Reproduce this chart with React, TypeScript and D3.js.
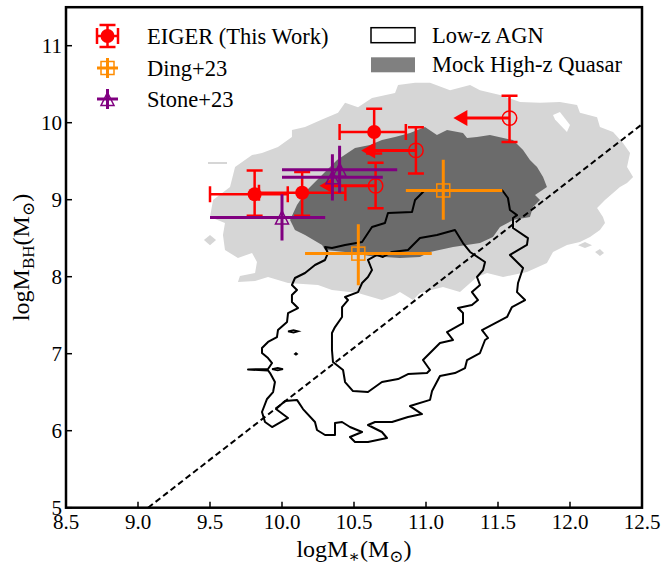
import React from 'react'
import * as d3 from 'd3'

// ---- data ----
const X_TICKS = [8.5, 9.0, 9.5, 10.0, 10.5, 11.0, 11.5, 12.0, 12.5]
const Y_TICKS = [5, 6, 7, 8, 9, 10, 11]

// EIGER detections: stellar mass, BH mass and their error ranges
const EIGER_DET = [
  { m: 9.81, bh: 9.07, mLo: 9.50, mHi: 10.04, bhLo: 8.79, bhHi: 9.38 },
  { m: 10.14, bh: 9.09, mLo: 9.84, mHi: 10.44, bhLo: 8.79, bhHi: 9.36 },
  { m: 10.64, bh: 9.88, mLo: 10.40, mHi: 10.86, bhLo: 9.60, bhHi: 10.18 },
]
// EIGER upper limits on stellar mass (arrow tip = where the arrow points)
const EIGER_LIM = [
  { m: 10.93, bh: 9.64, tip: 10.55, bhLo: 9.34, bhHi: 9.94 },
  { m: 10.65, bh: 9.18, tip: 10.26, bhLo: 8.89, bhHi: 9.48 },
  { m: 11.58, bh: 10.06, tip: 11.19, bhLo: 9.75, bhHi: 10.35 },
]
const DING = [
  { m: 11.12, bh: 9.12, mLo: 10.86, mHi: 11.53, bhLo: 8.74, bhHi: 9.52 },
  { m: 10.53, bh: 8.30, mLo: 10.16, mHi: 11.04, bhLo: 7.89, bhHi: 8.68 },
]
const STONE = [
  { m: 10.0, bh: 8.77, mLo: 9.50, mHi: 10.30, bhLo: 8.47, bhHi: 9.07 },
  { m: 10.40, bh: 9.39, mLo: 10.0, mHi: 10.80, bhLo: 9.09, bhHi: 9.70 },
  { m: 10.35, bh: 9.29, mLo: 10.0, mHi: 10.70, bhLo: 8.99, bhHi: 9.59 },
]

// local relation (dashed)
const RELATION = [[9.07, 5.0], [12.5, 9.98]]

// mock high-z quasar density, outer (light) level
const MOCK_OUTER = [
  [9.674, 9.425], [9.792, 9.58], [9.861, 9.606], [9.972, 9.684], [10.069, 9.814], [10.069, 9.906],
  [10.16, 9.945], [10.278, 10.04], [10.389, 10.13], [10.438, 10.26], [10.528, 10.2], [10.625, 10.32],
  [10.785, 10.385], [10.806, 10.49], [10.924, 10.52], [11.028, 10.52], [11.167, 10.42], [11.306, 10.49],
  [11.375, 10.42], [11.514, 10.36], [11.653, 10.27], [11.792, 10.26], [11.93, 10.27], [12.049, 10.23],
  [12.069, 10.13], [12.188, 10.07], [12.208, 9.945], [12.299, 9.88], [12.368, 9.736], [12.417, 9.606],
  [12.396, 9.425], [12.438, 9.295], [12.396, 9.217], [12.347, 9.165], [12.299, 9.087], [12.243, 8.996],
  [12.188, 8.892], [12.229, 8.775], [12.243, 8.697], [12.208, 8.606], [12.139, 8.515], [12.069, 8.45],
  [11.979, 8.412], [11.882, 8.321], [11.84, 8.178], [11.701, 8.061], [11.535, 7.996], [11.424, 8.048],
  [11.354, 7.996], [11.236, 7.8], [11.118, 7.866], [10.958, 7.788], [10.91, 7.697], [10.819, 7.8],
  [10.785, 7.762], [10.694, 7.697], [10.528, 7.788], [10.347, 7.827], [10.25, 7.892], [10.042, 7.918],
  [9.903, 7.996], [9.813, 7.944], [9.694, 7.931], [9.708, 8.009], [9.813, 8.048], [9.826, 8.191],
  [9.792, 8.308], [9.694, 8.243], [9.604, 8.347], [9.59, 8.541], [9.604, 8.697], [9.5, 8.775],
  [9.521, 8.996], [9.639, 9.165], [9.66, 9.32],
]
const MOCK_OUTER_HOLE = [[11.882, 10.1], [11.93, 10.14], [12.0, 9.97], [11.979, 9.88], [11.896, 10.04]]
const MOCK_OUTER_ISLANDS = [
  [[9.458, 8.477], [9.5, 8.54], [9.542, 8.477], [9.5, 8.41]],
  [[9.486, 9.49], [9.618, 9.49], [9.618, 9.465], [9.486, 9.465]],
  [[12.056, 8.41], [12.104, 8.45], [12.153, 8.41], [12.104, 8.373]],
  [[12.174, 8.321], [12.208, 8.36], [12.236, 8.308], [12.208, 8.269]],
]
// mock high-z quasar density, inner (dark) level
const MOCK_INNER = [
  [10.056, 8.736], [10.104, 8.931], [10.174, 9.126], [10.278, 9.32], [10.382, 9.516], [10.507, 9.671],
  [10.611, 9.71], [10.694, 9.775], [10.785, 9.814], [10.889, 9.866], [10.993, 9.945], [11.076, 9.84],
  [11.146, 9.906], [11.257, 9.866], [11.285, 9.8], [11.354, 9.814], [11.444, 9.84], [11.604, 9.775],
  [11.674, 9.645], [11.722, 9.516], [11.771, 9.425], [11.813, 9.295], [11.84, 9.165], [11.757, 9.061],
  [11.792, 8.996], [11.743, 8.905], [11.722, 8.775], [11.604, 8.736], [11.514, 8.645], [11.465, 8.515],
  [11.375, 8.437], [11.188, 8.386], [11.028, 8.321], [10.958, 8.256], [10.819, 8.243], [10.611, 8.269],
  [10.438, 8.321], [10.299, 8.347], [10.278, 8.412], [10.16, 8.541], [10.09, 8.606],
]

// low-z AGN contours (two levels plus small fragments)
const AGN_OUTER = [
  [10.993, 9.126], [10.924, 8.996], [10.903, 8.84], [10.736, 8.827], [10.715, 8.697], [10.625, 8.645],
  [10.556, 8.45], [10.438, 8.412], [10.347, 8.373], [10.299, 8.386], [10.319, 8.308], [10.299, 8.217],
  [10.229, 8.152], [10.16, 8.048], [10.09, 7.983], [10.069, 7.892], [10.104, 7.827], [10.069, 7.762],
  [10.069, 7.671], [10.111, 7.593], [10.042, 7.528], [10.035, 7.412], [9.972, 7.307], [9.965, 7.216],
  [9.903, 7.152], [9.861, 7.074], [9.861, 7.009], [9.903, 6.944], [9.931, 6.879], [9.903, 6.801],
  [9.764, 6.795], [9.903, 6.782], [9.917, 6.749], [9.951, 6.632], [9.938, 6.502], [9.896, 6.412],
  [9.861, 6.243], [9.882, 6.113], [9.931, 6.048], [10.042, 6.165], [9.958, 6.281], [10.021, 6.386],
  [10.104, 6.4], [10.146, 6.281], [10.229, 6.113], [10.243, 6.009], [10.299, 5.944], [10.368, 5.944],
  [10.368, 6.1], [10.417, 6.113], [10.472, 6.048], [10.556, 5.983], [10.472, 5.918], [10.507, 5.853],
  [10.597, 5.853], [10.729, 5.905], [10.694, 5.983], [10.597, 6.074], [10.646, 6.113], [10.764, 6.113],
  [10.875, 6.178], [10.972, 6.216], [10.889, 6.32], [11.028, 6.4], [11.042, 6.515], [11.097, 6.71],
  [11.201, 6.749], [11.271, 6.814], [11.285, 6.918], [11.375, 7.009], [11.41, 7.178], [11.431, 7.204],
  [11.389, 7.307], [11.563, 7.477], [11.597, 7.606], [11.688, 7.697], [11.632, 7.8], [11.639, 7.918],
  [11.674, 8.113], [11.583, 8.282], [11.701, 8.412], [11.708, 8.502], [11.604, 8.632], [11.604, 8.762],
  [11.632, 8.8], [11.583, 8.866], [11.569, 9.022], [11.528, 9.126],
]
const AGN_INNER = [
  [10.625, 8.087], [10.597, 7.996], [10.556, 7.918], [10.528, 7.8], [10.438, 7.736], [10.458, 7.697],
  [10.417, 7.606], [10.417, 7.477], [10.368, 7.346], [10.347, 7.268], [10.347, 7.048], [10.354, 6.892],
  [10.424, 6.788], [10.438, 6.632], [10.493, 6.515], [10.597, 6.502], [10.694, 6.632], [10.806, 6.671],
  [10.875, 6.736], [11.007, 6.749], [11.028, 6.788], [10.979, 6.918], [11.097, 7.139], [11.188, 7.178],
  [11.146, 7.281], [11.257, 7.398], [11.257, 7.528], [11.222, 7.593], [11.319, 7.632], [11.361, 7.697],
  [11.319, 7.8], [11.375, 7.892], [11.354, 7.996], [11.396, 8.087], [11.41, 8.191], [11.306, 8.321],
  [11.257, 8.437], [11.201, 8.606], [11.076, 8.541], [10.958, 8.502], [10.875, 8.347], [10.764, 8.321],
  [10.701, 8.256], [10.66, 8.282], [10.597, 8.217],
]
const AGN_FRAGMENTS = [
  [[10.042, 7.29], [10.08, 7.305], [10.111, 7.29], [10.08, 7.275]],
  [[10.09, 6.997], [10.097, 7.007], [10.104, 6.997], [10.097, 6.987]],
  [[9.931, 6.8], [9.97, 6.815], [10.007, 6.8], [9.97, 6.785]],
]

// ---- layout ----
const W = 663
const H = 566
const PL = 66, PR = 642, PT = 7.2, PB = 507.7

const RED = '#ff0000'
const ORANGE = '#ff8c00'
const PURPLE = '#800080'
const SERIF = '"Liberation Serif", "DejaVu Serif", "Times New Roman", serif'

const x = d3.scaleLinear().domain([8.5, 12.5]).range([PL, PR])
const y = d3.scaleLinear().domain([5, 11.5]).range([PB, PT])

const area = d3.line<number[]>().x(d => x(d[0])).y(d => y(d[1])).curve(d3.curveLinearClosed)
const rel = d3.line<number[]>().x(d => x(d[0])).y(d => y(d[1]))

const tri = (cx: number, cy: number, r: number) =>
  `M${cx},${cy - r}L${cx + r},${cy + r}L${cx - r},${cy + r}Z`

function Cross({ d, color }: { d: any; color: string }) {
  return (
    <g stroke={color} strokeWidth={3}>
      <line x1={x(d.mLo)} x2={x(d.mHi)} y1={y(d.bh)} y2={y(d.bh)} />
      <line x1={x(d.m)} x2={x(d.m)} y1={y(d.bhLo)} y2={y(d.bhHi)} />
    </g>
  )
}

const txt = { fontFamily: SERIF, fill: '#000' }

export default function App() {
  const cap = 8
  return (
    <svg width={W} height={H} style={{ position: 'absolute', left: 0, top: 0, background: '#fff' }}>
      <defs>
        <clipPath id="plot"><rect x={PL} y={PT} width={PR - PL} height={PB - PT} /></clipPath>
      </defs>
      <g clipPath="url(#plot)">
        <path d={area(MOCK_OUTER)!} fill="#d6d6d6" />
        <path d={area(MOCK_OUTER_HOLE)!} fill="#fff" />
        {MOCK_OUTER_ISLANDS.map((p, i) => <path key={i} d={area(p)!} fill="#d6d6d6" />)}
        <path d={area(MOCK_INNER)!} fill="#6b6b6b" />

        <path d={area(AGN_OUTER)!} fill="none" stroke="#000" strokeWidth={2} strokeLinejoin="round" />
        <path d={area(AGN_INNER)!} fill="none" stroke="#000" strokeWidth={2} strokeLinejoin="round" />
        {AGN_FRAGMENTS.map((p, i) => (
          <path key={i} d={area(p)!} fill="none" stroke="#000" strokeWidth={1.8} />
        ))}

        <path d={rel(RELATION)!} fill="none" stroke="#000" strokeWidth={2} strokeDasharray="6,3.5" />

        {/* EIGER detections */}
        {EIGER_DET.map((d, i) => (
          <g key={'d' + i} stroke={RED} strokeWidth={2.5}>
            <line x1={x(d.mLo)} x2={x(d.mHi)} y1={y(d.bh)} y2={y(d.bh)} />
            <line x1={x(d.m)} x2={x(d.m)} y1={y(d.bhLo)} y2={y(d.bhHi)} />
            <line x1={x(d.mLo)} x2={x(d.mLo)} y1={y(d.bh) - cap} y2={y(d.bh) + cap} />
            <line x1={x(d.mHi)} x2={x(d.mHi)} y1={y(d.bh) - cap} y2={y(d.bh) + cap} />
            <line x1={x(d.m) - cap} x2={x(d.m) + cap} y1={y(d.bhLo)} y2={y(d.bhLo)} />
            <line x1={x(d.m) - cap} x2={x(d.m) + cap} y1={y(d.bhHi)} y2={y(d.bhHi)} />
            <circle cx={x(d.m)} cy={y(d.bh)} r={7} fill={RED} stroke="none" />
          </g>
        ))}
        {/* EIGER upper limits */}
        {EIGER_LIM.map((d, i) => {
          const cy = y(d.bh)
          const tx = x(d.tip)
          return (
            <g key={'l' + i} stroke={RED} strokeWidth={2.5}>
              <line x1={x(d.m)} x2={x(d.m)} y1={y(d.bhLo)} y2={y(d.bhHi)} />
              <line x1={x(d.m) - cap} x2={x(d.m) + cap} y1={y(d.bhLo)} y2={y(d.bhLo)} />
              <line x1={x(d.m) - cap} x2={x(d.m) + cap} y1={y(d.bhHi)} y2={y(d.bhHi)} />
              <line x1={x(d.m)} x2={tx + 10} y1={cy} y2={cy} strokeWidth={3} />
              <path d={`M${tx},${cy}L${tx + 14},${cy - 8}L${tx + 14},${cy + 8}Z`} fill={RED} stroke="none" />
              <circle cx={x(d.m)} cy={cy} r={7.2} fill="none" strokeWidth={1.5} />
            </g>
          )
        })}
        {/* Ding+23 */}
        {DING.map((d, i) => (
          <g key={'g' + i}>
            <Cross d={d} color={ORANGE} />
            <rect x={x(d.m) - 6.5} y={y(d.bh) - 6.5} width={13} height={13} fill="none" stroke={ORANGE} strokeWidth={1.5} />
          </g>
        ))}
        {/* Stone+23 */}
        {STONE.map((d, i) => (
          <g key={'s' + i}>
            <Cross d={d} color={PURPLE} />
            <path d={tri(x(d.m), y(d.bh), 6.5)} fill="none" stroke={PURPLE} strokeWidth={1.5} />
          </g>
        ))}
      </g>

      {/* frame and ticks */}
      <rect x={PL} y={PT} width={PR - PL} height={PB - PT} fill="none" stroke="#000" strokeWidth={2.5} />
      {X_TICKS.map(t => (
        <g key={'x' + t}>
          <line x1={x(t)} x2={x(t)} y1={PB} y2={PB - 6} stroke="#000" strokeWidth={1.5} />
          <text x={x(t)} y={PB + 21} fontSize={21} textAnchor="middle" style={txt}>{t.toFixed(1)}</text>
        </g>
      ))}
      {Y_TICKS.map(t => (
        <g key={'y' + t}>
          <line x1={PL} x2={PL + 6} y1={y(t)} y2={y(t)} stroke="#000" strokeWidth={1.5} />
          <text x={PL - 4} y={y(t) + 7.5} fontSize={21} textAnchor="end" style={txt}>{t}</text>
        </g>
      ))}

      {/* axis titles */}
      <text x={(PL + PR) / 2} y={557} fontSize={24} textAnchor="middle" style={txt}>
        <tspan>logM</tspan>
        <tspan fontSize={17} dy={5}>∗</tspan>
        <tspan dy={-5}>(M</tspan>
        <tspan fontSize={17} dy={5}>⊙</tspan>
        <tspan dy={-5}>)</tspan>
      </text>
      <text transform={`translate(29,${(PT + PB) / 2}) rotate(-90)`} fontSize={24} textAnchor="middle" style={txt}>
        <tspan>logM</tspan>
        <tspan fontSize={17} dy={5}>BH</tspan>
        <tspan dy={-5}>(M</tspan>
        <tspan fontSize={17} dy={5}>⊙</tspan>
        <tspan dy={-5}>)</tspan>
      </text>

      {/* left legend */}
      <g>
        <g stroke={RED} strokeWidth={2.5}>
          <line x1={97} x2={118} y1={36} y2={36} />
          <line x1={107.5} x2={107.5} y1={25} y2={47} />
          <line x1={97} x2={97} y1={28} y2={44} />
          <line x1={118} x2={118} y1={28} y2={44} />
          <line x1={99.5} x2={115.5} y1={25} y2={25} />
          <line x1={99.5} x2={115.5} y1={47} y2={47} />
          <circle cx={107.5} cy={36} r={7} fill={RED} stroke="none" />
        </g>
        <text x={147} y={44} fontSize={22.5} style={txt}>EIGER (This Work)</text>
        <g stroke={ORANGE} strokeWidth={3}>
          <line x1={97} x2={118} y1={68} y2={68} />
          <line x1={107.5} x2={107.5} y1={58} y2={78} />
        </g>
        <rect x={101} y={61.5} width={13} height={13} fill="none" stroke={ORANGE} strokeWidth={1.5} />
        <text x={147} y={76} fontSize={22.5} style={txt}>Ding+23</text>
        <g stroke={PURPLE} strokeWidth={3}>
          <line x1={97} x2={118} y1={99} y2={99} />
          <line x1={107.5} x2={107.5} y1={89} y2={109} />
        </g>
        <path d={tri(107.5, 99, 6.5)} fill="none" stroke={PURPLE} strokeWidth={1.5} />
        <text x={147} y={107} fontSize={22.5} style={txt}>Stone+23</text>
      </g>

      {/* right legend */}
      <g>
        <rect x={371} y={27.7} width={44} height={15} fill="#fff" stroke="#000" strokeWidth={1.5} />
        <text x={432} y={42.5} fontSize={22.5} style={txt}>Low-z AGN</text>
        <rect x={371} y={57.3} width={44} height={15} fill="#808080" />
        <text x={432} y={72.3} fontSize={22.5} style={txt}>Mock High-z Quasar</text>
      </g>
    </svg>
  )
}
